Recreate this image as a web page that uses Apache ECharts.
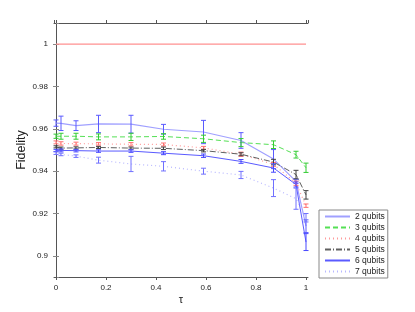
<!DOCTYPE html>
<html>
<head>
<meta charset="utf-8">
<script src="https://cdn.jsdelivr.net/npm/echarts@6/dist/echarts.min.js"></script>
<style>html,body{margin:0;padding:0;background:#fff}#c{width:415px;height:312px}</style>
</head>
<body>
<div id="c"></div>
<script>
const tau = [0, 0.02, 0.08, 0.17, 0.30, 0.43, 0.59, 0.74, 0.87, 0.96, 1.0];
const refTau = [0, 1];
const refFid = [1, 1];
const q2 = [0.9627, 0.9626, 0.9615, 0.9623, 0.9622, 0.9598, 0.9585, 0.9545, 0.9457, 0.9352, 0.9140];
const q2err = [0.0015, 0.0034, 0.0023, 0.0041, 0.0042, 0.0023, 0.0055, 0.0037, 0.0045, 0.0010, 0.0030];
const q3 = [0.9565, 0.9565, 0.9565, 0.9562, 0.9562, 0.9564, 0.9553, 0.9535, 0.9525, 0.9478, 0.9416];
const q3err = [0.0010, 0.0014, 0.0014, 0.0014, 0.0017, 0.0013, 0.0017, 0.0019, 0.0018, 0.0016, 0.0022];
const q4 = [0.9536, 0.9531, 0.9530, 0.9529, 0.9527, 0.9526, 0.9510, 0.9480, 0.9432, 0.9343, 0.9237];
const q4err = [0.0007, 0.0008, 0.0007, 0.0006, 0.0008, 0.0007, 0.0007, 0.0010, 0.0009, 0.0010, 0.0008];
const q5 = [0.9515, 0.9509, 0.9510, 0.9512, 0.9509, 0.9508, 0.9497, 0.9480, 0.9443, 0.9384, 0.9288];
const q5err = [0.0005, 0.0005, 0.0005, 0.0005, 0.0005, 0.0006, 0.0006, 0.0007, 0.0013, 0.0020, 0.0020];
const q6 = [0.9498, 0.9498, 0.9497, 0.9495, 0.9495, 0.9485, 0.9473, 0.9446, 0.9415, 0.9337, 0.9065];
const q6err = [0.0005, 0.0007, 0.0006, 0.0006, 0.0006, 0.0007, 0.0008, 0.0009, 0.0020, 0.0012, 0.0040];
const q7 = [0.9485, 0.9479, 0.9471, 0.9452, 0.9434, 0.9423, 0.9400, 0.9382, 0.9320, 0.9270, 0.9180];
const q7err = [0.0006, 0.0006, 0.0006, 0.0014, 0.0036, 0.0022, 0.0014, 0.0017, 0.0040, 0.0050, 0.0020];
const names = ['2 qubits', '3 qubits', '4 qubits', '5 qubits', '6 qubits', '7 qubits'];

const FONT = 'Liberation Sans, Arial, sans-serif';
const chart = echarts.init(document.getElementById('c'), null, {renderer: 'canvas'});

function lineSeries(name, ys, color, type, width) {
  return {
    type: 'line', name: name, data: tau.map((t, i) => [t, ys[i]]),
    showSymbol: false, symbol: 'none', smooth: false, z: 2,
    lineStyle: {color: color, width: width || 1, type: type},
    itemStyle: {color: color},
    emphasis: {disabled: true}, animation: false
  };
}
function errSeries(name, ys, errs, color) {
  return {
    type: 'custom', name: name + ' err', z: 3, silent: true, animation: false,
    data: tau.map((t, i) => [t, ys[i], errs[i]]),
    encode: {x: 0, y: 1},
    renderItem: function (params, api) {
      const x = api.value(0), y = api.value(1), e = api.value(2);
      const a = api.coord([x, y + e]);
      const b = api.coord([x, y - e]);
      const hw = 2.5;
      const st = {stroke: color, lineWidth: 1};
      return {type: 'group', children: [
        {type: 'line', shape: {x1: a[0], y1: a[1], x2: b[0], y2: b[1]}, style: st},
        {type: 'line', shape: {x1: a[0] - hw, y1: a[1], x2: a[0] + hw, y2: a[1]}, style: st},
        {type: 'line', shape: {x1: b[0] - hw, y1: b[1], x2: b[0] + hw, y2: b[1]}, style: st}
      ]};
    }
  };
}

const colors = {
  q2: '#a0a0ff', q2e: '#5a5aff',
  q3: '#55e055', q3e: '#33cc33',
  q4: '#ff9a9a', q4e: '#ff7070',
  q5: '#606060', q5e: '#404040',
  q6: '#5a5aff', q6e: '#4848ff',
  q7: '#b8b8ff', q7e: '#7070ff'
};

const axisDark = '#555';
const option = {
  animation: false,
  backgroundColor: '#fff',
  grid: {left: 54, right: 107, top: 23, bottom: 35, show: false},
  legend: {
    data: names, orient: 'vertical', left: 319, top: 210,
    backgroundColor: '#fff', borderColor: '#888', borderWidth: 1, borderRadius: 0,
    padding: [2, 3, 2, 5], itemWidth: 25, itemHeight: 8, itemGap: 2,
    itemStyle: {opacity: 0},
    textStyle: {fontFamily: FONT, fontSize: 8.5, color: '#222'}
  },
  xAxis: [
    {type: 'value', min: -0.008, max: 1.008, position: 'bottom',
     name: 'τ', nameLocation: 'middle', nameGap: 17, nameMoveOverlap: false,
     nameTextStyle: {fontFamily: FONT, fontSize: 11, color: '#222'},
     axisLine: {lineStyle: {color: axisDark, width: 1}},
     axisTick: {length: 3, lineStyle: {color: axisDark}},
     axisLabel: {showMinLabel: false, showMaxLabel: false, fontFamily: FONT, fontSize: 8, color: '#222', margin: 7},
     splitLine: {show: false}},
    {type: 'value', min: -0.008, max: 1.008, position: 'top',
     axisLine: {lineStyle: {color: axisDark, width: 1}},
     axisTick: {length: 3, lineStyle: {color: axisDark}},
     axisLabel: {show: false}, splitLine: {show: false}}
  ],
  yAxis: [
    {type: 'value', min: 0.89, max: 1.01, position: 'left',
     name: 'Fidelity', nameLocation: 'middle', nameGap: 26, nameRotate: 90, nameMoveOverlap: false,
     nameTextStyle: {fontFamily: FONT, fontSize: 12.5, color: '#222'},
     axisLine: {show: true, lineStyle: {color: '#bbb', width: 1}},
     axisTick: {show: true, length: 3, lineStyle: {color: '#888'}},
     axisLabel: {showMinLabel: false, showMaxLabel: false, fontFamily: FONT, fontSize: 8, color: '#222', margin: 6},
     splitLine: {show: false}},
    {type: 'value', min: 0.89, max: 1.01, position: 'right',
     axisLine: {show: true, lineStyle: {color: axisDark, width: 1}},
     axisTick: {show: true, length: 3, lineStyle: {color: '#888'}},
     axisLabel: {show: false}, splitLine: {show: false}}
  ],
  series: [
    {type: 'line', name: 'ref', data: refTau.map((t, i) => [t, refFid[i]]), showSymbol: false, symbol: 'none',
     lineStyle: {color: '#ff9090', width: 1.3}, z: 2, animation: false},
    lineSeries(names[0], q2, colors.q2, 'solid', 1.2),
    lineSeries(names[1], q3, colors.q3, [5, 3], 1),
    lineSeries(names[2], q4, colors.q4, [1, 3], 1.2),
    lineSeries(names[3], q5, colors.q5, [6, 2, 1, 2], 1),
    lineSeries(names[4], q6, colors.q6, 'solid', 1),
    lineSeries(names[5], q7, colors.q7, [1, 3], 1.2),
    errSeries(names[0], q2, q2err, colors.q2e),
    errSeries(names[1], q3, q3err, colors.q3e),
    errSeries(names[2], q4, q4err, colors.q4e),
    errSeries(names[3], q5, q5err, colors.q5e),
    errSeries(names[4], q6, q6err, colors.q6e),
    errSeries(names[5], q7, q7err, colors.q7e)
  ]
};
chart.setOption(option);
</script>
</body>
</html>
